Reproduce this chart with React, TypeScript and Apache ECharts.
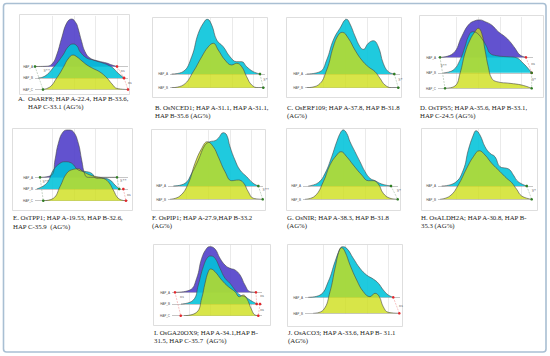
import React, { useEffect, useRef } from "react";
import * as echarts from "echarts";

// Ridge curves: [x position across plot (0-100), ridge height in baseline units; lowest baseline = 0]
const A_hapA = [[0,2.0],[11.8,2.02],[18.3,2.22],[23.3,3.0],[28.7,4.48],[34.1,5.78],[39.5,6.13],[44.1,5.78],[46.2,5.35],[50.2,4.16],[53.8,3.29],[59.1,2.74],[67.7,2.48],[77.1,2.3],[82.8,2.13],[88.2,2.0]];
const A_hapB = [[3.2,1.0],[10.8,1.17],[19.4,1.87],[30.1,3.0],[35.5,3.7],[40.9,3.96],[45.2,3.78],[48.4,3.29],[55.6,2.74],[62.4,2.57],[67.7,2.43],[73.1,2.3],[78.5,2.13],[83.9,1.87],[89.2,1.43],[95.7,1.0]];
const A_hapC = [[8.6,0],[14,0.13],[18.3,0.39],[22.6,0.91],[26.9,1.43],[31.2,2.04],[35.5,2.65],[40.9,3.0],[45.2,2.83],[50.5,2.48],[55.9,2.13],[62.4,1.83],[69.9,1.52],[77.4,1.0],[82.8,0.48],[88.2,0.09],[100,0]];

const B_hapA = [[1.8,1],[13.7,1.17],[22.8,2.26],[29.8,3.97],[36.8,4.89],[39.3,4.99],[43.9,4.58],[49.2,3.48],[56.1,2.99],[63.2,2.26],[70.2,1.9],[75.5,1.9],[80.7,1.53],[87.7,1.17],[94.7,1]];
const B_hapB = [[1.8,0],[14,0.2],[24.5,1.17],[33.4,2.26],[40.3,2.99],[45.6,3.24],[50.8,2.75],[57.9,2.02],[64.9,1.66],[70.2,1.78],[75.5,1.53],[80.7,0.8],[86,0.2],[92.9,0],[98.2,0]];

const C_hapA = [[1.8,1],[15.8,1.17],[22.8,2.02],[29.8,3.48],[36.8,4.34],[43.9,4.99],[47.4,4.65],[52.6,3.77],[57.9,2.99],[61.4,2.8],[66.6,3.24],[71.9,3.43],[77.2,2.99],[82.4,1.78],[87.7,1.17],[94,1]];
const C_hapB = [[1.8,0],[14,0.2],[22.8,1.29],[29.8,2.99],[35.1,3.85],[39.3,4.04],[45.6,3.61],[52.6,2.75],[59.7,2.02],[66.6,1.53],[73.7,1.17],[78.9,0.69],[84.2,0.2],[91.3,0],[98.2,0]];

const D_hapA = [[2.1,2],[16.1,2.26],[24.9,3.33],[31.9,4.08],[38.9,4.36],[44.2,4.41],[49.5,4.3],[56.5,4.08],[63.5,3.65],[70.5,3.33],[75.8,3.01],[81.1,2.58],[86.3,2.15],[92.6,2]];
const D_hapB = [[5.6,1],[16.1,1.18],[23.2,1.83],[28.4,2.68],[31.9,3.33],[36.5,3.65],[41.4,3.55],[47.1,3.12],[51.3,2.68],[54.7,2.26],[61.8,2.1],[72.3,2.04],[81.1,2.0],[89.8,1.61],[98.6,1]];
const D_hapC = [[7.4,0],[17.9,0.15],[23.2,0.97],[28.4,2.26],[33.7,3.12],[38.9,3.65],[42.4,3.87],[46,3.55],[49.5,2.47],[52.9,1.39],[56.5,0.65],[61.8,0.43],[75.8,0.32],[88.1,0.21],[98.6,0]];

const E_hapA = [[5.4,2],[18,2.2],[21.5,3.48],[25.1,4.91],[30.4,5.9],[35.8,6.04],[41.2,5.9],[46.6,4.91],[50.2,3.48],[53.8,2.2],[57.3,2.0],[88.2,2.0]];
const E_hapB = [[1.8,1],[12.6,1.49],[19.7,2.62],[26.9,3.2],[32.3,3.33],[39.5,3.2],[46.6,2.62],[55.6,2.48],[61,2.34],[66.3,1.91],[73.4,1.91],[80.6,1.77],[86,1.34],[90.6,1]];
const E_hapC = [[8.9,0],[19.7,0.2],[26.9,1.2],[34.1,2.34],[41.2,2.68],[46.6,2.73],[51.9,2.48],[59.1,2.2],[66.3,2.05],[73.4,1.91],[78.8,1.62],[84.2,0.91],[89.6,0.2],[96.8,0]];

const F_hapA = [[5.6,1],[17.9,1.2],[24.9,1.95],[31.9,2.95],[38.9,4.08],[44.2,4.33],[49.5,4.41],[52.9,4.59],[58.2,5.01],[61.8,4.83],[65.3,3.95],[70.5,2.95],[75.8,2.2],[82.8,1.7],[89.8,1.2],[95.1,1]];
const F_hapB = [[2.1,0],[12.6,0.25],[21.4,1.2],[28.4,2.71],[35.5,3.83],[41.4,4.33],[47.7,3.95],[52.9,3.2],[60,2.08],[67.1,1.4],[74,1.45],[79.3,1.25],[84.5,0.57],[89.8,0.08],[99.7,0]];

const G_hapA = [[5.6,1],[16.1,1.25],[23.2,1.95],[30.2,3.2],[35.5,4.33],[40,5.08],[42.4,5.21],[46,4.96],[49.5,4.33],[54.7,3.58],[60,2.83],[65.3,2.08],[70.5,1.58],[75.8,1.4],[82.8,1.15],[92.6,1]];
const G_hapB = [[2.1,0],[12.6,0.25],[21.4,1.32],[28.4,2.58],[35.5,3.33],[40,3.58],[46,3.2],[52.9,2.58],[61.8,1.83],[68.7,1.4],[74,1.4],[79.3,1.15],[84.5,0.45],[91.6,0.08],[99.7,0]];

const H_hapA = [[3.9,1],[17.9,1.25],[26.6,2.2],[31.9,3.71],[37.2,4.83],[40,5.16],[44.2,4.83],[49.5,3.95],[54.7,3.46],[60,3.2],[65.3,2.45],[72.3,2.33],[75.8,2.2],[79.3,1.83],[84.5,1.32],[93.4,1]];
const H_hapB = [[2.1,0],[12.6,0.25],[21.4,1.08],[30.2,2.33],[37.2,3.2],[43.5,3.65],[49.5,3.33],[56.5,2.71],[65.3,2.08],[72.3,1.58],[77.6,1.25],[82.8,0.75],[88.1,0.25],[98.6,0]];

const I_hapA = [[4.4,2],[20,2.2],[27.4,3.2],[33,4.91],[38.6,5.76],[42.2,5.9],[47.8,5.7],[53.3,4.91],[58.9,4.33],[64.4,4.05],[70,3.91],[75.6,3.48],[81.1,2.62],[86.7,2.05],[93.3,2]];
const I_hapB = [[10,1],[23.7,1.34],[29.2,2.62],[34.8,4.19],[40.3,5.04],[43.3,5.1],[47.8,4.91],[53.3,4.05],[58.9,3.2],[64.4,2.77],[70,2.2],[75.6,1.77],[81.1,1.62],[86.7,1.34],[94.4,1]];
const I_hapC = [[13.3,0],[27.4,0.29],[33,1.49],[36.7,2.77],[40.3,3.76],[43,3.99],[47.8,3.76],[55.2,3.05],[62.6,2.48],[70,2.05],[74.8,1.62],[79.2,1.77],[83,1.49],[88.6,0.49],[92.2,0.06],[96.7,0]];

const J_hapA = [[3.5,1],[15.8,1.14],[24.5,1.98],[31.6,3.23],[36.8,4.02],[39.3,4.16],[43.9,4.06],[50.8,3.44],[57.9,2.81],[64.9,2.39],[71.9,2.14],[77.2,1.88],[82.4,1.46],[87.7,1.14],[92.9,1]];
const J_hapB = [[8.7,0],[19.3,0.21],[26.3,1.35],[31.6,2.81],[36.1,3.96],[38.6,4.1],[42.1,3.85],[47.4,3.02],[54.4,2.08],[61.4,1.35],[68.4,1.04],[73.7,1.25],[78.2,1.04],[82.4,0.41],[87.7,0.06],[99.3,0]];

// significance brackets: [x1, y1, x2, y2, kind]  (g = significant, r = ns)
const A_pairs = [[0,2,8.6,0,"g"],[88.2,2,95.7,1,"r"],[95.7,1,100,0,"r"]];
const A_marks = [[12.6,1.63,"S**"],[94.3,1.63,"ns"],[102,0.63,"ns"]];
const B_pairs = [[94.7,1,98.2,0,"g"]];
const B_marks = [[100.5,0.6,"S*"]];
const C_pairs = [[94,1,98.2,0,"g"]];
const C_marks = [[100.5,0.6,"S*"]];
const D_pairs = [[2.1,2,7.4,0,"g"],[92.6,2,98.6,1,"r"],[98.6,1,98.6,0,"g"]];
const D_marks = [[6,1.45,"S**"],[100,1.6,"ns"],[101,0.55,"S*"]];
const E_pairs = [[5.4,2,8.9,0,"g"],[88.2,2,90.6,1,"g"],[95,1,97.8,0,"r"]];
const E_marks = [[11.5,1.6,"S**"],[95,1.7,"S**"],[100.8,0.5,"ns"]];
const F_pairs = [[95.1,1,99.7,0,"g"]];
const F_marks = [[103,0.7,"S**"]];
const G_pairs = [[92.6,1,99.7,0,"g"]];
const G_marks = [[101,0.65,"S*"]];
const H_pairs = [[93.4,1,98.6,0,"g"]];
const H_marks = [[101,0.65,"S*"]];
const I_pairs = [[3.3,2,9.7,0,"r"],[93.3,2,94.1,1,"r"],[97.8,1,95.9,0,"r"]];
const I_marks = [[11,1.6,"ns"],[100,1.7,"ns"],[100,0.57,"ns"]];
const J_pairs = [[92.9,1,99.3,0,"r"]];
const J_marks = [[101,0.5,"ns"]];

const GRID_X = [19, 42, 65, 88];
const HAP3 = ["HAP_C", "HAP_B", "HAP_A"];
const HAP2 = ["HAP_B", "HAP_A"];

const CAPTIONS = [
  ["OsARF8; HAP A-22.4, HAP B-33.6,", "HAP C-33.1 (AG%)"],
  ["B. OsNCED1; HAP A-31.1, HAP A-31.1,", "HAP B-35.6 (AG%)"],
  ["C. OsERF109; HAP A-37.8, HAP B-31.8", "(AG%)"],
  ["D. OsTPS5; HAP A-35.6, HAP B-33.1,", "HAP C-24.5 (AG%)"],
  ["E. OsTPP1; HAP A-19.53, HAP B-32.6,", "HAP C-35.9  (AG%)"],
  ["F. OsPIP1; HAP A-27.9,HAP B-33.2", "(AG%)"],
  ["G. OsNIR; HAP A-38.3, HAP B-31.8", "(AG%)"],
  ["H. OsALDH2A; HAP A-30.8, HAP B-", "35.3 (AG%)"],
  ["I. OsGA20OX9; HAP A-34.1,HAP B-", "31.5, HAP C-35.7  (AG%)"],
  ["J. OsACO3; HAP A-33.6, HAP B- 31.1", "(AG%)"],
];

// layout (pixels)
const PANELS = [
  { ridges: [A_hapA, A_hapB, A_hapC], pairs: A_pairs, marks: A_marks, box: [19, 14, 110, 80], L: 35, R: 128, base: 89.5, sp: 11.5, ymax: 6.4, cap: [28, 98.5, 106.5] },
  { ridges: [B_hapA, B_hapB], pairs: B_pairs, marks: B_marks, box: [152, 17, 115, 80], L: 170, R: 265, base: 87.7, sp: 13.7, ymax: 5.1, cap: [155, 107, 115] },
  { ridges: [C_hapA, C_hapB], pairs: C_pairs, marks: C_marks, box: [286, 17, 115, 80], L: 305, R: 400, base: 87.7, sp: 13.7, ymax: 5.1, cap: [287, 107, 115] },
  { ridges: [D_hapA, D_hapB, D_hapC], pairs: D_pairs, marks: D_marks, box: [419, 15, 124, 82], L: 438, R: 533, base: 88.3, sp: 15.5, ymax: 4.6, cap: [420, 107, 115] },
  { ridges: [E_hapA, E_hapB, E_hapC], pairs: E_pairs, marks: E_marks, box: [12, 128, 120, 82], L: 35, R: 128, base: 200.7, sp: 11.7, ymax: 6.2, cap: [13, 217.5, 226] },
  { ridges: [F_hapA, F_hapB], pairs: F_pairs, marks: F_marks, box: [151, 129, 114, 81], L: 168, R: 263, base: 199.3, sp: 13.3, ymax: 5.2, cap: [152, 217.5, 225.5] },
  { ridges: [G_hapA, G_hapB], pairs: G_pairs, marks: G_marks, box: [286, 128, 114, 82], L: 303, R: 398, base: 199.3, sp: 13.3, ymax: 5.3, cap: [287, 217.5, 225.5] },
  { ridges: [H_hapA, H_hapB], pairs: H_pairs, marks: H_marks, box: [421, 128, 116, 82], L: 438, R: 533, base: 199.3, sp: 13.3, ymax: 5.3, cap: [421, 217.5, 225.5] },
  { ridges: [I_hapA, I_hapB, I_hapC], pairs: I_pairs, marks: I_marks, box: [153, 244, 117, 81], L: 172, R: 262, base: 315.7, sp: 11.7, ymax: 6.1, cap: [154, 332.5, 340.5] },
  { ridges: [J_hapA, J_hapB], pairs: J_pairs, marks: J_marks, box: [287, 244, 115, 82], L: 305, R: 400, base: 313.3, sp: 16, ymax: 4.3, cap: [288, 332.5, 340.5] },
];

const PURPLE = "rgba(76,58,200,0.88)";
const CYAN = "rgba(0,195,218,0.88)";
const YELLOW = "rgba(205,222,20,0.78)";

export default function App() {
  const ref = useRef<HTMLDivElement>(null);
  useEffect(() => {
    const chart = echarts.init(ref.current!, null, { renderer: "svg" });
    const grid: any[] = [];
    const xAxis: any[] = [];
    const yAxis: any[] = [];
    const series: any[] = [];
    const graphic: any[] = [];
    const font = "Liberation Serif";

    graphic.push({
      type: "rect",
      z: 0,
      shape: { x: 3.5, y: 3.5, width: 542.5, height: 348.5, r: 3 },
      style: { fill: "none", stroke: "#a9bfd3", lineWidth: 1.6 },
    });

    PANELS.forEach((p, i) => {
      const n = p.ridges.length;
      const names = n === 3 ? HAP3 : HAP2;
      const cols = n === 3 ? [PURPLE, CYAN, YELLOW] : [CYAN, YELLOW];
      const [bx, by, bw, bh] = p.box;
      graphic.push({
        type: "rect",
        z: 0,
        shape: { x: bx + 0.5, y: by + 0.5, width: bw, height: bh },
        style: { fill: "none", stroke: "#d6d6d6", lineWidth: 0.8 },
      });
      grid.push({ left: p.L, top: p.base - p.ymax * p.sp, width: p.R - p.L, height: p.ymax * p.sp });
      xAxis.push({ gridIndex: i, type: "value", min: 0, max: 100, show: false });
      yAxis.push({
        gridIndex: i,
        type: "value",
        min: 0,
        max: p.ymax,
        interval: 1,
        axisLine: { show: false },
        axisTick: { show: false },
        splitLine: { show: false },
        axisLabel: {
          fontSize: 3,
          color: "#555",
          margin: 2,
          formatter: (v: number) => (Number.isInteger(v) && names[v]) ? names[v] : "",
        },
      });
      // background guide lines
      series.push({
        type: "line",
        xAxisIndex: i,
        yAxisIndex: i,
        data: [[0, 0]],
        symbol: "none",
        lineStyle: { width: 0 },
        z: 1,
        silent: true,
        markLine: {
          silent: true,
          z: 1,
          symbol: ["none", "none"],
          label: { show: false },
          lineStyle: { color: "#dcdcdc", width: 0.6, type: "solid" },
          data: [
            ...GRID_X.map((x) => ({ xAxis: x })),
            ...names.map((_, k) => ({ yAxis: k, lineStyle: { color: "#8c8c8c", width: 0.5, type: "solid" } })),
          ],
        },
      });
      p.ridges.forEach((r, k) => {
        const baseLevel = n - 1 - k;
        series.push({
          type: "line",
          xAxisIndex: i,
          yAxisIndex: i,
          data: r,
          smooth: 0.45,
          symbol: "none",
          showSymbol: false,
          silent: true,
          z: 3,
          lineStyle: { color: "#474747", width: 0.6 },
          areaStyle: { color: cols[k], opacity: 1, origin: baseLevel },
        });
      });
      p.pairs.forEach((pr: any) => {
        const g = pr[4] === "g";
        series.push({
          type: "line",
          xAxisIndex: i,
          yAxisIndex: i,
          data: [[pr[0], pr[1]], [pr[2], pr[3]]],
          symbol: "circle",
          symbolSize: 2.6,
          showSymbol: true,
          clip: false,
          silent: true,
          z: 5,
          itemStyle: { color: g ? "#2f7d23" : "#e3262b" },
          lineStyle: { color: g ? "#93ad93" : "#ee8a8a", width: 0.5, type: "dashed" },
        });
      });
      series.push({
        type: "scatter",
        xAxisIndex: i,
        yAxisIndex: i,
        data: p.marks.map((m: any) => ({ value: [m[0], m[1]], name: m[2] })),
        symbolSize: 1,
        itemStyle: { color: "transparent" },
        clip: false,
        silent: true,
        z: 6,
        label: { show: true, position: "inside", formatter: "{b}", fontSize: 4.2, color: "#333", fontFamily: font },
      });
      // caption
      const [cx, cy1, cy2] = p.cap;
      const [l1, l2] = CAPTIONS[i];
      if (i === 0) {
        graphic.push({ type: "text", x: 18, y: cy1, style: { text: "A.", fontSize: 6.8, fontFamily: font, fill: "#222", verticalAlign: "middle" } });
      }
      graphic.push({ type: "text", x: cx, y: cy1, style: { text: l1, fontSize: 6.8, fontFamily: font, fill: "#222", verticalAlign: "middle" } });
      graphic.push({ type: "text", x: cx, y: cy2, style: { text: l2, fontSize: 6.8, fontFamily: font, fill: "#222", verticalAlign: "middle" } });
    });

    chart.setOption({ animation: false, backgroundColor: "#fff", grid, xAxis, yAxis, series, graphic });
    return () => chart.dispose();
  }, []);
  return <div ref={ref} style={{ position: "fixed", left: 0, top: 0, width: 550, height: 356 }} />;
}
